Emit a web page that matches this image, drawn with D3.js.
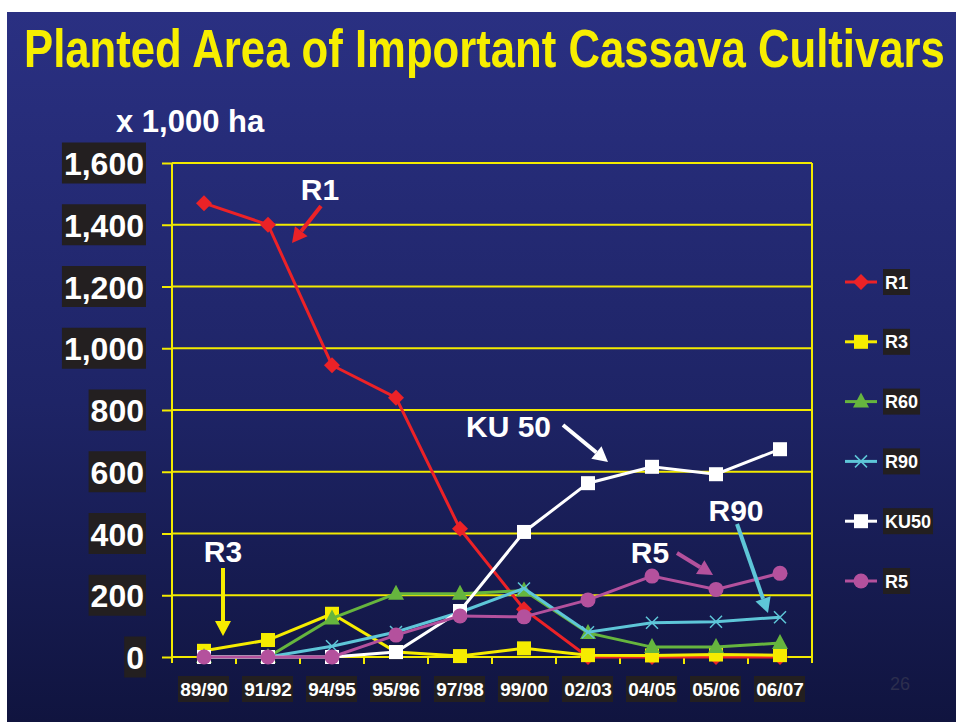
<!DOCTYPE html>
<html><head><meta charset="utf-8">
<script src="https://cdn.jsdelivr.net/npm/d3@7"></script>
<style>
html,body{margin:0;padding:0;background:#fff;}
svg{display:block;}
text{font-family:"Liberation Sans",Arial,Helvetica,sans-serif;font-weight:bold;}
</style></head>
<body>
<svg id="chart" width="956" height="722"></svg>
<script>
const categories = ["89/90","91/92","94/95","95/96","97/98","99/00","02/03","04/05","05/06","06/07"];
const yTicks = [0,200,400,600,800,1000,1200,1400,1600];
const seriesNames = ["R1","R3","R60","R90","KU50","R5"];
const R1   = [1470,1400,945,840,415,155,0,0,0,0];
const R3   = [20,55,140,16,3,28,6,5,8,6];
const R60  = [0,0,125,205,205,215,78,32,32,45];
const R90  = [0,0,35,81,145,222,80,111,114,129];
const KU50 = [0,0,0,16,149,405,563,616,592,673];
const R5   = [0,0,0,71,133,130,185,262,219,271];
const seriesValues = [R1,R3,R60,R90,KU50,R5];
const seriesColors = ["#ec2227","#f6ec00","#66b53e","#5ec6d8","#ffffff","#b4519d"];
const seriesShapes = ["diamond","square","triangle","cross","square","circle"];
const annotations = ["R1","R3","KU 50","R90","R5"];
const annotationColors = ["#ec2227","#f6ec00","#ffffff","#5ec6d8","#b4519d"];

const svg = d3.select("#chart");
const W = 956, H = 722;
const defs = svg.append("defs");
const grad = defs.append("linearGradient").attr("id","bg").attr("x1",0).attr("y1",0).attr("x2",0).attr("y2",1);
grad.append("stop").attr("offset","0%").attr("stop-color","#2a3082");
grad.append("stop").attr("offset","55%").attr("stop-color","#1e2466");
grad.append("stop").attr("offset","100%").attr("stop-color","#10143f");
svg.append("rect").attr("x",7).attr("y",12).attr("width",W-7).attr("height",H-12).attr("fill","url(#bg)");

// title, scaled horizontally to the reference width
const title = svg.append("text").attr("x",0).attr("y",0)
  .style("font-family","'Liberation Sans Narrow','Liberation Sans',Arial,sans-serif")
  .style("font-size","54px").attr("fill","#f7ee00")
  .text("Planted Area of Important Cassava Cultivars");
const tw = title.node().getComputedTextLength();
title.attr("transform",`translate(24,67) scale(${921/tw},1)`);

svg.append("text").attr("x",116).attr("y",132).attr("fill","#ffffff")
  .style("font-size","31px").text("x 1,000 ha");

const x = d3.scaleBand().domain(categories).range([172,812]).paddingInner(0).paddingOuter(0);
const cx = c => x(c) + x.bandwidth()/2;
const y = d3.scaleLinear().domain([0,1600]).range([657,163]);

const gridColor = "#f2ea00";
svg.append("g").selectAll("line").data(yTicks).join("line")
  .attr("x1",172).attr("x2",812).attr("y1",d=>y(d)).attr("y2",d=>y(d))
  .attr("stroke",gridColor).attr("stroke-width",2);
svg.append("line").attr("x1",812).attr("x2",812).attr("y1",y(1600)).attr("y2",y(0)+6)
  .attr("stroke",gridColor).attr("stroke-width",2);

// y axis
const yAxis = svg.append("g").attr("transform","translate(172,0)")
  .call(d3.axisLeft(y).tickValues(yTicks).tickFormat(d3.format(",")).tickSize(10).tickPadding(18));
yAxis.select(".domain").attr("stroke",gridColor).attr("stroke-width",2).attr("d","M0,163V663");
yAxis.selectAll(".tick line").attr("stroke",gridColor).attr("stroke-width",2);
yAxis.selectAll(".tick text").attr("fill","#fff").style("font-size","32px").style("font-weight","bold")
  .style("font-family","'Liberation Sans',Arial,sans-serif").attr("dy","0.36em");
yAxis.selectAll(".tick").each(function(){
  const t = d3.select(this).select("text");
  const bb = t.node().getBBox();
  d3.select(this).insert("rect","text").attr("x",bb.x-2).attr("y",-21).attr("width",-26-(bb.x-2)).attr("height",41).attr("fill","#231f20");
});

// x axis
const xAxis = svg.append("g").attr("transform","translate(0,657)")
  .call(d3.axisBottom(x).tickSize(0).tickPadding(32));
xAxis.select(".domain").remove();
xAxis.selectAll(".tick text").attr("fill","#fff").style("font-size","19px").style("font-weight","bold")
  .style("font-family","'Liberation Sans',Arial,sans-serif").attr("dy","0");
xAxis.selectAll(".tick").each(function(){
  const t = d3.select(this).select("text");
  d3.select(this).insert("rect","text").attr("x",-26).attr("y",19).attr("width",51).attr("height",26).attr("fill","#231f20");
  t.attr("y",39);
});
svg.append("g").selectAll("line").data(categories.slice(1)).join("line")
  .attr("x1",d=>x(d)).attr("x2",d=>x(d)).attr("y1",657).attr("y2",664)
  .attr("stroke",gridColor).attr("stroke-width",2);

function drawMarker(g, shape, color, px, py){
  if(shape==="diamond"){
    g.append("path").attr("d",`M${px},${py-8}L${px+8},${py}L${px},${py+8}L${px-8},${py}Z`).attr("fill",color);
  } else if(shape==="square"){
    g.append("rect").attr("x",px-7).attr("y",py-7).attr("width",14).attr("height",14).attr("fill",color);
  } else if(shape==="triangle"){
    g.append("path").attr("d",`M${px},${py-9}L${px+8},${py+6}L${px-8},${py+6}Z`).attr("fill",color);
  } else if(shape==="cross"){
    g.append("path").attr("d",`M${px-6},${py-6}L${px+6},${py+6}M${px+6},${py-6}L${px-6},${py+6}`).attr("stroke",color).attr("stroke-width",1.5);
  } else if(shape==="circle"){
    g.append("circle").attr("cx",px).attr("cy",py).attr("r",7.5).attr("fill",color);
  }
}

const line = d3.line().x((d,i)=>cx(categories[i])).y(d=>y(d));
seriesValues.forEach((vals,si)=>{
  const g = svg.append("g");
  g.append("path").attr("d",line(vals)).attr("fill","none").attr("stroke",seriesColors[si]).attr("stroke-width",3);
  vals.forEach((v,i)=>drawMarker(g, seriesShapes[si], seriesColors[si], cx(categories[i]), y(v)));
});

// legend
const lg = svg.append("g");
seriesNames.forEach((n,i)=>{
  const ly = 282 + i*59.8;
  lg.append("line").attr("x1",845).attr("x2",877).attr("y1",ly).attr("y2",ly).attr("stroke",seriesColors[i]).attr("stroke-width",3);
  drawMarker(lg, seriesShapes[i], seriesColors[i], 861, ly);
  const t = lg.append("text").attr("x",885).attr("y",ly+6.5).attr("fill","#fff").style("font-size","18px").text(n);
  const bb = t.node().getBBox();
  lg.insert("rect","text").attr("x",883).attr("y",ly-13).attr("width",bb.width+4).attr("height",26).attr("fill","#231f20");
});
lg.selectAll("text").raise();

// annotations
function arrow(x1,y1,x2,y2,color){
  const ang = Math.atan2(y2-y1,x2-x1);
  const L=15, Wd=8;
  const bx = x2 - L*Math.cos(ang), by = y2 - L*Math.sin(ang);
  svg.append("line").attr("x1",x1).attr("y1",y1).attr("x2",bx).attr("y2",by).attr("stroke",color).attr("stroke-width",4);
  const px = -Math.sin(ang), py = Math.cos(ang);
  svg.append("path").attr("d",`M${x2},${y2}L${bx+px*Wd},${by+py*Wd}L${bx-px*Wd},${by-py*Wd}Z`).attr("fill",color);
}
const ann = svg.append("g");
function annText(t, px, py, anchor){
  ann.append("text").attr("x",px).attr("y",py).attr("text-anchor",anchor||"middle").attr("fill","#fff").style("font-size","30px").text(t);
}
annText(annotations[0], 320, 200);
arrow(321,206,292,243,annotationColors[0]);
annText(annotations[1], 223, 562);
arrow(223,568,223,636,annotationColors[1]);
annText(annotations[2], 466, 437, "start");
arrow(563,425,608,462,annotationColors[2]);
annText(annotations[3], 736, 521);
arrow(737,524,768,613,annotationColors[3]);
annText(annotations[4], 650, 563);
arrow(677,553,713,575,annotationColors[4]);

svg.append("text").attr("x",900).attr("y",690).attr("text-anchor","middle").attr("fill","#2c2e4e")
  .style("font-size","18px").style("font-weight","normal").text("26");
</script>
</body></html>
